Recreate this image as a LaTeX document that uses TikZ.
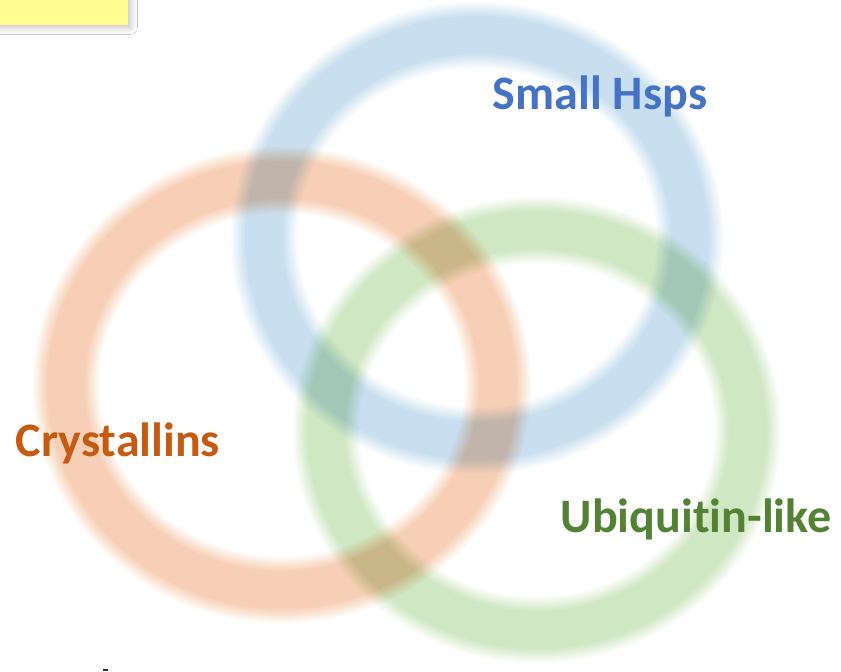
\documentclass[tikz,border=0pt]{standalone}
\usepackage{fontspec}
\setmainfont[Ligatures=NoCommon]{Carlito}
\usetikzlibrary{shadows.blur}

\definecolor{hspBlue}{RGB}{68,114,196}
\definecolor{cryOrange}{RGB}{197,90,17}
\definecolor{ublGreen}{RGB}{84,130,53}
% one eighth of the ring tint, stacked eight times by multiply
\definecolor{ringBlue}{rgb}{0.9725,0.9834,0.99245}
\definecolor{ringOrange}{rgb}{0.99602,0.97661,0.96262}
\definecolor{ringGreen}{rgb}{0.97718,0.98718,0.96826}
\definecolor{noteYellow}{RGB}{255,254,143}

\begin{document}
\begin{tikzpicture}
[x=0.03cm,y=-0.03cm,
 lbl/.style={font=\fontsize{41}{49}\selectfont\bfseries,inner sep=0pt},
 note/.style={fill=noteYellow,blur shadow={shadow xshift=2pt,shadow yshift=-2pt,shadow blur radius=6pt,shadow opacity=25}},
 ring/.style={blend mode=multiply,draw=#1}]
\useasboundingbox (0,0) rectangle (841,671);
\fill[white] (0,0) rectangle (841,671);
\path[note] (-20,-20) rectangle (128,25);
\foreach \cx/\cy/\rx/\ry/\col in {477/238/213/203/ringBlue,
                                  282/385/216/205/ringOrange,
                                  537/430/211/200/ringGreen}{
  \foreach \w in {66,62,58,54,50,46,42,38}
    \path[ring=\col,line width=\w*0.8536pt] (\cx,\cy) ellipse [x radius=\rx,y radius=\ry];
}
\node[lbl,text=hspBlue]   (hsps) at (600,96)  {Small Hsps};
\node[lbl,text=cryOrange] (cry)  at (118,443) {Crystallins};
\node[lbl,text=ublGreen]  (ubl)  at (696,519) {Ubiquitin-like};
\fill[black!80] (103,669) rectangle (108,671);
\end{tikzpicture}
\end{document}
